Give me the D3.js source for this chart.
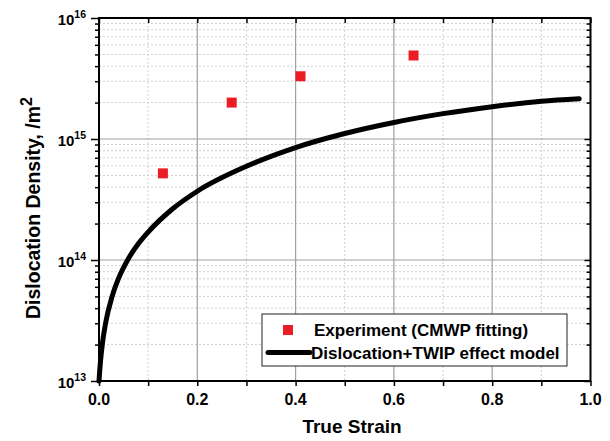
<!DOCTYPE html>
<html>
<head>
<meta charset="utf-8">
<script src="https://cdn.jsdelivr.net/npm/d3@7"></script>
<style>
  body { margin: 0; background: #fff; }
  text { font-family: "Liberation Sans", Arial, sans-serif; font-weight: bold; }
</style>
</head>
<body>
<svg id="chart" width="610" height="441"></svg>
<script>
// experiment points (CMWP fitting)
const expStrain = [0.13, 0.27, 0.41, 0.64];
const expDensity = [5.2e14, 2.0e15, 3.3e15, 4.9e15];

// model curve
const modelStrain = [0.0, 0.003, 0.0068, 0.0136, 0.027, 0.04, 0.06, 0.08, 0.1, 0.15, 0.2, 0.3, 0.4, 0.5, 0.6, 0.7, 0.8, 0.9, 0.977];
const modelDensity = [1e13, 1.45e13, 2.02e13, 3.04e13, 5.05e13, 7.08e13, 1.03e14, 1.36e14, 1.7e14, 2.65e14, 3.7e14, 5.95e14, 8.5e14, 1.11e15, 1.37e15, 1.62e15, 1.85e15, 2.05e15, 2.15e15];

const xTicks = [0, 0.2, 0.4, 0.6, 0.8, 1.0];
const xMinor = [0.1, 0.3, 0.5, 0.7, 0.9];
const yDecades = [13, 14, 15, 16];

const legendLabels = ["Experiment (CMWP fitting)", "Dislocation+TWIP effect model"];

const svg = d3.select("#chart");
const pLeft = 99, pRight = 590.5, pTop = 18, pBottom = 381;

const x = d3.scaleLinear().domain([0, 1]).range([pLeft, pRight]);
const y = d3.scaleLog().domain([1e13, 1e16]).range([pBottom, pTop]);

// minor values for log axis: 2..9 x decade
let yMinor = [];
for (let i = 0; i < yDecades.length - 1; i++) {
    for (let k = 2; k <= 9; k++) {
        yMinor.push(k * Math.pow(10, yDecades[i]));
    }
}
const yMajor = yDecades.map(function(e) { return Math.pow(10, e); });

// grid
let grid = svg.append("g");
grid.selectAll(".vminor").data(xMinor).enter().append("line")
    .attr("x1", d => x(d)).attr("x2", d => x(d))
    .attr("y1", pTop).attr("y2", pBottom)
    .attr("stroke", "#cfcfcf").attr("stroke-dasharray", "2,2");
grid.selectAll(".hminor").data(yMinor).enter().append("line")
    .attr("x1", pLeft).attr("x2", pRight)
    .attr("y1", d => y(d)).attr("y2", d => y(d))
    .attr("stroke", "#cfcfcf").attr("stroke-dasharray", "2,2");
grid.selectAll(".vmajor").data(xTicks.slice(1, -1)).enter().append("line")
    .attr("x1", d => x(d)).attr("x2", d => x(d))
    .attr("y1", pTop).attr("y2", pBottom)
    .attr("stroke", "#a0a0a0").attr("stroke-width", 1.2);
grid.selectAll(".hmajor").data(yMajor.slice(1, -1)).enter().append("line")
    .attr("x1", pLeft).attr("x2", pRight)
    .attr("y1", d => y(d)).attr("y2", d => y(d))
    .attr("stroke", "#a0a0a0").attr("stroke-width", 1.2);

// axes
function styleAxis(g) {
    g.select(".domain").remove();
    g.selectAll("line").attr("stroke", "#000").attr("stroke-width", 1.5);
}

svg.append("g").attr("transform", "translate(0," + pBottom + ")")
    .call(d3.axisBottom(x).tickValues(xTicks.concat(xMinor)).tickSize(5).tickFormat(""))
    .call(styleAxis);
svg.append("g").attr("transform", "translate(0," + pTop + ")")
    .call(d3.axisBottom(x).tickValues(xTicks.concat(xMinor)).tickSize(5).tickFormat(""))
    .call(styleAxis);
svg.append("g").attr("transform", "translate(" + pLeft + ",0)")
    .call(d3.axisLeft(y).tickValues(yMajor).tickSize(8).tickFormat(""))
    .call(styleAxis);
svg.append("g").attr("transform", "translate(" + pLeft + ",0)")
    .call(d3.axisLeft(y).tickValues(yMinor).tickSize(4).tickFormat(""))
    .call(styleAxis);
svg.append("g").attr("transform", "translate(" + pRight + ",0)")
    .call(d3.axisLeft(y).tickValues(yMajor).tickSize(6).tickFormat(""))
    .call(styleAxis);
svg.append("g").attr("transform", "translate(" + pRight + ",0)")
    .call(d3.axisLeft(y).tickValues(yMinor).tickSize(4).tickFormat(""))
    .call(styleAxis);

// frame
svg.append("rect")
    .attr("x", pLeft).attr("y", pTop)
    .attr("width", pRight - pLeft).attr("height", pBottom - pTop)
    .attr("fill", "none").attr("stroke", "#000").attr("stroke-width", 2);

// x tick labels
svg.selectAll(".xlab").data(xTicks).enter().append("text")
    .attr("x", d => x(d)).attr("y", pBottom + 24)
    .attr("text-anchor", "middle").attr("font-size", 16)
    .text(d => d.toFixed(1));

// y tick labels 10^n
let ylab = svg.selectAll(".ylab").data(yDecades).enter().append("text")
    .attr("x", 86).attr("y", d => y(Math.pow(10, d)) + 7)
    .attr("text-anchor", "end").attr("font-size", 15);
ylab.append("tspan").text("10");
ylab.append("tspan").attr("dy", -7).attr("font-size", 10.5).text(d => d);

// axis titles
svg.append("text")
    .attr("x", 352).attr("y", 433)
    .attr("text-anchor", "middle").attr("font-size", 19)
    .text("True Strain");
let ytitle = svg.append("text")
    .attr("transform", "translate(40,208) rotate(-90)")
    .attr("text-anchor", "middle").attr("font-size", 19.5);
ytitle.append("tspan").text("Dislocation Density, /m");
ytitle.append("tspan").attr("dy", -8).attr("font-size", 16).text("2");

// model curve
const line = d3.line()
    .x(function(d, i) { return x(modelStrain[i]); })
    .y(function(d) { return y(d); })
    .curve(d3.curveMonotoneX);
svg.append("path")
    .datum(modelDensity)
    .attr("d", line)
    .attr("fill", "none").attr("stroke", "#000")
    .attr("stroke-width", 5).attr("stroke-linecap", "round");

// experiment squares
svg.selectAll(".sq").data(expDensity).enter().append("rect")
    .attr("x", (d, i) => x(expStrain[i]) - 5)
    .attr("y", d => y(d) - 5)
    .attr("width", 10).attr("height", 10)
    .attr("fill", "#ec1c24");

// legend
let lg = svg.append("g");
lg.append("rect")
    .attr("x", 262).attr("y", 314).attr("width", 305).attr("height", 52)
    .attr("fill", "#fff").attr("stroke", "#222").attr("stroke-width", 1);
lg.append("rect")
    .attr("x", 283).attr("y", 325).attr("width", 10).attr("height", 10)
    .attr("fill", "#ec1c24");
lg.append("line")
    .attr("x1", 268).attr("x2", 310).attr("y1", 352.5).attr("y2", 352.5)
    .attr("stroke", "#000").attr("stroke-width", 5).attr("stroke-linecap", "round");
lg.selectAll(".lt").data(legendLabels).enter().append("text")
    .attr("x", (d, i) => i === 0 ? 314 : 311)
    .attr("y", (d, i) => 335.5 + i * 23)
    .attr("font-size", 17)
    .text(d => d);
</script>
</body>
</html>
